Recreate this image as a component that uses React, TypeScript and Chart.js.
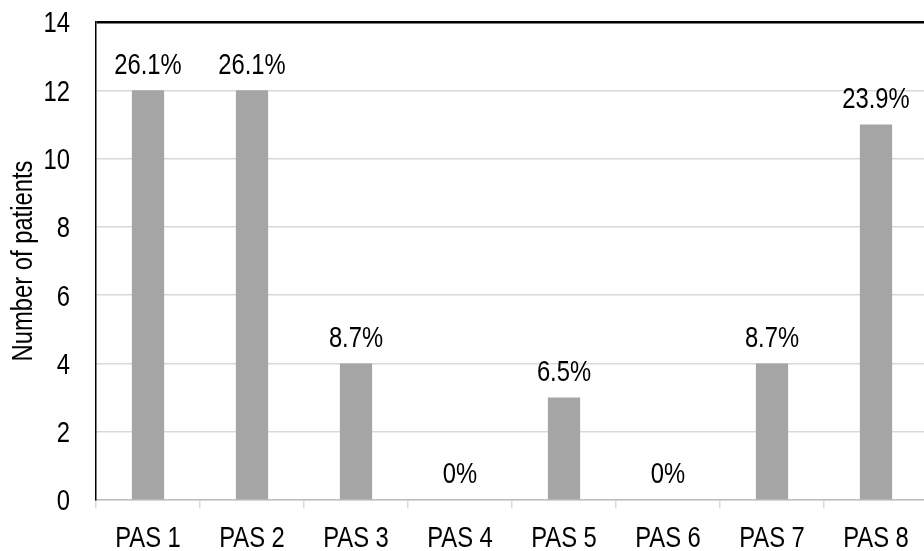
import React, { useEffect, useRef } from "react";
import { Chart, registerables } from "chart.js";

Chart.register(...registerables);

const categories = ["PAS 1", "PAS 2", "PAS 3", "PAS 4", "PAS 5", "PAS 6", "PAS 7", "PAS 8"];
const patients = [12, 12, 4, 0, 3, 0, 4, 11];
const percentLabels = ["26.1%", "26.1%", "8.7%", "0%", "6.5%", "0%", "8.7%", "23.9%"];
const yTicks = [0, 2, 4, 6, 8, 10, 12, 14];
const yTitle = "Number of patients";

const FONT = "'Liberation Sans', Arial, sans-serif";
const FS = 29;
const NARROW = 0.82;

function narrowText(
  ctx: CanvasRenderingContext2D,
  text: string,
  x: number,
  y: number,
  align: CanvasTextAlign,
  rotate = 0
) {
  ctx.save();
  ctx.translate(x, y);
  if (rotate) ctx.rotate(rotate);
  ctx.scale(NARROW, 1);
  ctx.textAlign = align;
  ctx.textBaseline = "alphabetic";
  ctx.fillText(text, 0, 0);
  ctx.restore();
}

const textPlugin = {
  id: "narrowText",
  afterDraw(chart: any) {
    const ctx: CanvasRenderingContext2D = chart.ctx;
    ctx.save();
    ctx.font = `${FS}px ${FONT}`;
    ctx.fillStyle = "#000";
    const capHalf = (0.716 * FS) / 2;
    // data labels
    const meta = chart.getDatasetMeta(0);
    meta.data.forEach((bar: any, i: number) => {
      narrowText(ctx, percentLabels[i], bar.x, bar.y - 16.7, "center");
    });
    // y tick labels
    const ys = chart.scales.y;
    ys.ticks.forEach((t: any) => {
      narrowText(ctx, String(t.value), 70, ys.getPixelForValue(t.value) + capHalf, "right");
    });
    // x tick labels
    const xs = chart.scales.x;
    categories.forEach((c, i) => {
      narrowText(ctx, c, xs.getPixelForTick(i), 546.5, "center");
    });
    // y title
    const area = chart.chartArea;
    narrowText(ctx, yTitle, 31.5, (area.top + area.bottom) / 2, "center", -Math.PI / 2);
    ctx.restore();
  },
};

export default function App() {
  const ref = useRef<HTMLCanvasElement | null>(null);
  useEffect(() => {
    if (!ref.current) return;
    const chart = new Chart(ref.current, {
      type: "bar",
      data: {
        labels: categories,
        datasets: [
          {
            data: patients,
            backgroundColor: "#a5a5a5",
            categoryPercentage: 1,
            barPercentage: 0.31,
          },
        ],
      },
      options: {
        animation: false,
        responsive: false,
        devicePixelRatio: 1,
        layout: { padding: { top: 22, right: 4, left: 0, bottom: 0 } },
        plugins: { legend: { display: false }, tooltip: { enabled: false } },
        scales: {
          x: {
            afterFit: (s: any) => {
              s.height = 51;
            },
            grid: {
              drawOnChartArea: false,
              offset: true,
              tickLength: 8,
              color: "#d9d9d9",
              lineWidth: 1.5,
            },
            border: { color: "#bfbfbf", width: 1.5 },
            ticks: { display: false },
          },
          y: {
            min: 0,
            max: 14,
            afterFit: (s: any) => {
              s.width = 96;
            },
            afterBuildTicks: (s: any) => {
              s.ticks = yTicks.map((v) => ({ value: v }));
            },
            grid: {
              drawTicks: false,
              color: (c: any) => (c.tick && c.tick.value === 14 ? "#000" : "#d9d9d9"),
              lineWidth: (c: any) => (c.tick && c.tick.value === 14 ? 2.5 : 1.5),
            },
            border: { color: "#000", width: 1.5 },
            ticks: { display: false },
            title: { display: false, text: yTitle },
          },
        },
      },
      plugins: [textPlugin],
    });
    return () => chart.destroy();
  }, []);
  return (
    <div
      style={{
        position: "fixed",
        left: 0,
        top: 0,
        width: 924,
        height: 551,
        overflow: "hidden",
        background: "#fff",
      }}
    >
      <canvas ref={ref} width={932} height={551} style={{ display: "block", width: 932, height: 551 }} />
    </div>
  );
}
